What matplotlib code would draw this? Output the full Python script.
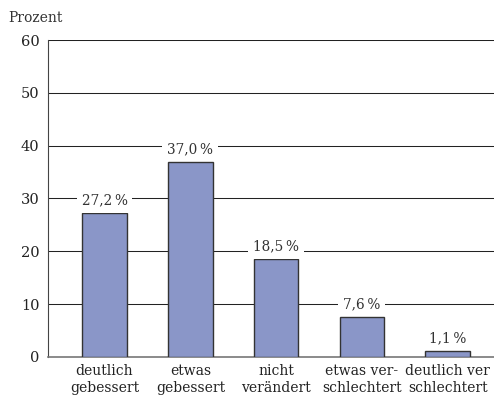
import matplotlib.pyplot as plt

# Daten: Veränderung der Situation
kategorien = ["deutlich\ngebessert", "etwas\ngebessert", "nicht\nverändert",
              "etwas ver-\nschlechtert", "deutlich ver\nschlechtert"]
werte = [27.2, 37.0, 18.5, 7.6, 1.1]
y_ticks = [0, 10, 20, 30, 40, 50, 60]

plt.rcParams['font.family'] = ['DejaVu Serif']

fig = plt.figure(figsize=(4.94, 4.01), dpi=100)
ax = fig.add_axes([0.097, 0.11, 0.903, 0.79])

x = list(range(len(werte)))
balken = ax.bar(x, werte, width=0.52, color='#8a96c8', edgecolor='#333333',
                linewidth=1.0, zorder=3)

for xi, w in zip(x, werte):
    txt = f"{w:.1f}".replace('.', ',') + "\u2009%"
    ax.annotate(txt, (xi, w), xytext=(0, 4), textcoords='offset points',
                ha='center', va='bottom', fontsize=9.8, color='#333333',
                bbox=dict(facecolor='white', edgecolor='none', pad=3.5),
                zorder=4)

ax.set_ylim(0, 60)
ax.set_xlim(-0.66, 4.54)
ax.set_yticks(y_ticks)
ax.set_yticklabels([str(t) for t in y_ticks], fontsize=10.5, color='#222222')
ax.set_xticks(x)
ax.set_xticklabels(kategorien, fontsize=10, color='#222222', linespacing=1.3)
ax.tick_params(axis='both', length=0)
ax.tick_params(axis='y', pad=6)
ax.tick_params(axis='x', pad=5)

for t in y_ticks[1:]:
    ax.axhline(t, color='#222222', linewidth=0.75, zorder=1)

for s in ['top', 'right']:
    ax.spines[s].set_visible(False)
ax.spines['left'].set_color('#444444')
ax.spines['bottom'].set_color('#777777')
ax.spines['bottom'].set_linewidth(1.2)

fig.text(0.016, 0.955, "Prozent", fontsize=10, color='#333333',
         ha='left', va='center')

fig.savefig('out.png', dpi=100)
